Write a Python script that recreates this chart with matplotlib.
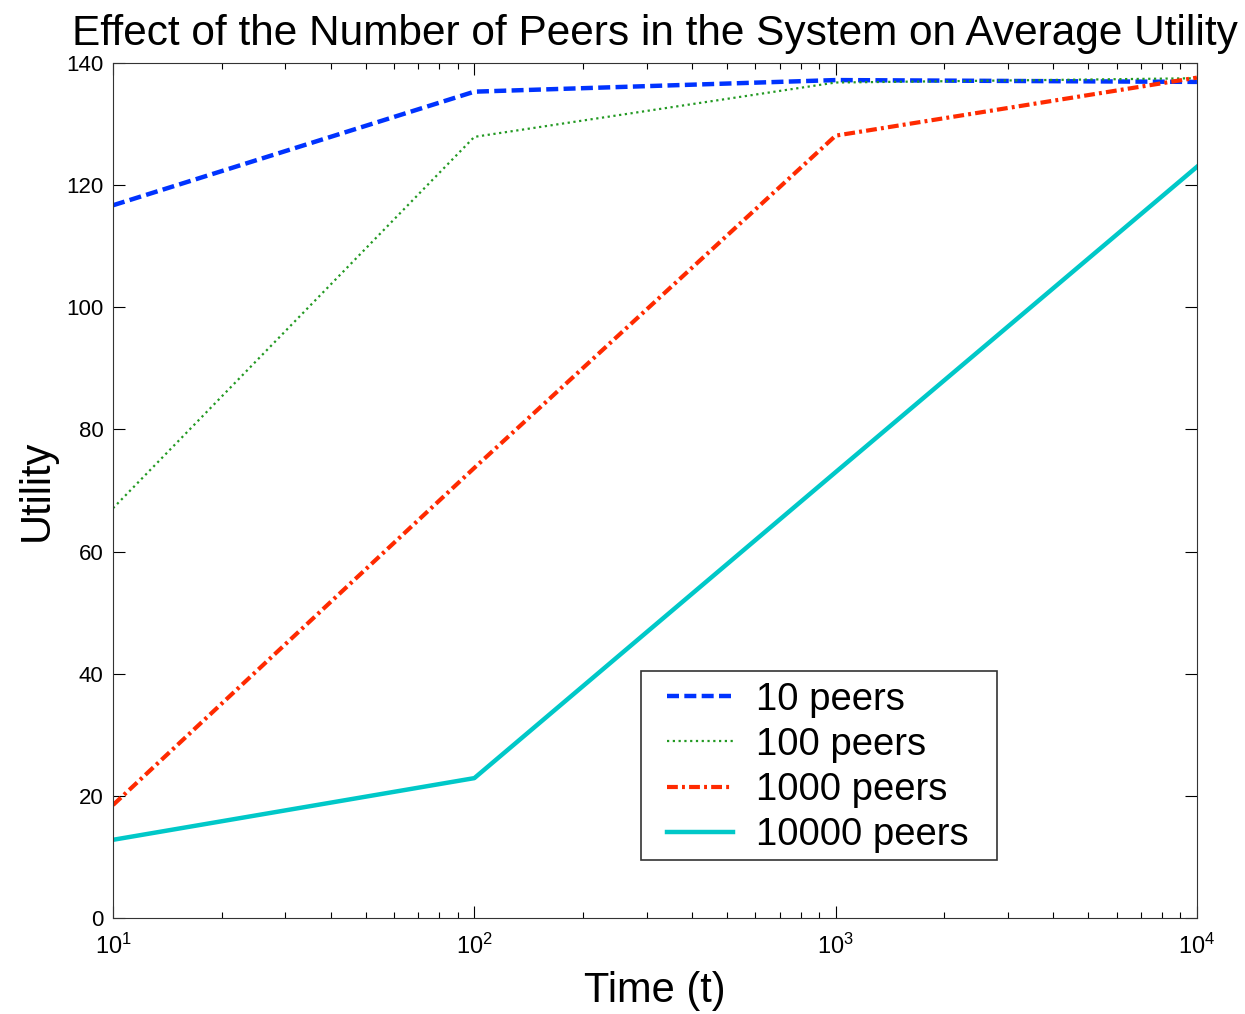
import matplotlib
matplotlib.use('Agg')
import matplotlib.pyplot as plt
from matplotlib.patches import Rectangle

plt.rcParams['font.family'] = ['Liberation Sans', 'DejaVu Sans']
plt.rcParams['mathtext.fontset'] = 'custom'
plt.rcParams['mathtext.rm'] = 'Liberation Sans'
plt.rcParams['mathtext.it'] = 'Liberation Sans:italic'

# Tiempos de simulación y utilidad promedio por tamaño del sistema
tiempo = [10, 100, 1000, 10000]
util_10 = [116.7, 135.3, 137.2, 136.9]
util_100 = [67.1, 127.9, 136.8, 137.5]
util_1000 = [18.5, 73.7, 128.1, 137.6]
util_10000 = [12.8, 22.9, 73.0, 123.0]
etiquetas = ['10 peers', '100 peers', '1000 peers', '10000 peers']

fig = plt.figure(figsize=(12.45, 10.14), dpi=100)
ax = fig.add_axes([0.0908, 0.0947, 0.8706, 0.8432])

ax.plot(tiempo, util_10, color='#0033ff', linestyle=(0, (2.7, 1.2)), linewidth=3.2, label=etiquetas[0])
ax.plot(tiempo, util_100, color='#229922', linestyle=(0, (1, 1.6)), linewidth=1.6, label=etiquetas[1])
ax.plot(tiempo, util_1000, color='#ff2a00', linestyle=(0, (2.6, 1.0, 0.7, 1.0)), linewidth=3.0, label=etiquetas[2])
ax.plot(tiempo, util_10000, color='#00c8c8', linestyle='-', linewidth=3.2, label=etiquetas[3])

ax.set_xscale('log')
ax.set_xlim(10, 10000)
ax.set_ylim(0, 140)
ax.set_yticks(range(0, 141, 20))

ax.tick_params(which='both', direction='in', top=True, right=True, labelsize=16)
ax.tick_params(axis='x', pad=11, labelsize=17)
ax.tick_params(axis='y', pad=7)
ax.tick_params(which='major', length=8.5, width=0.8)
ax.tick_params(which='minor', length=4, width=0.8)
for s in ax.spines.values():
    s.set_linewidth(0.8)
    s.set_color('#333333')

ax.set_title('Effect of the Number of Peers in the System on Average Utility', fontsize=30.5, pad=13)
ax.set_xlabel('Time (t)', fontsize=30, labelpad=9)
ax.set_ylabel('Utility', fontsize=30, labelpad=7)

# caja de la leyenda dibujada aparte para controlar sus márgenes
caja = Rectangle((0.487, 0.068), 0.3285, 0.221, transform=ax.transAxes,
                 facecolor='white', edgecolor='#333333', linewidth=1.2, zorder=4.9)
ax.add_patch(caja)
leg = ax.legend(loc='upper left', bbox_to_anchor=(0.511, 0.2765), borderaxespad=0,
                borderpad=0, fontsize=27.5, frameon=False, handlelength=1.73,
                labelspacing=0.24, handletextpad=0.6)

fig.savefig('out.png', dpi=100)
